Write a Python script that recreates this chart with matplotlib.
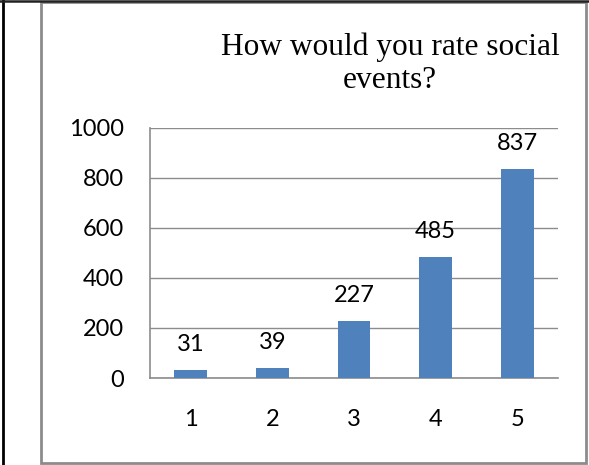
import matplotlib.pyplot as plt
from matplotlib.lines import Line2D
from matplotlib.patches import Rectangle

ratings = ["1", "2", "3", "4", "5"]
counts = [31, 39, 227, 485, 837]
yticks = [0, 200, 400, 600, 800, 1000]
title = "How would you rate social\nevents?"

W, H = 589, 465
fig = plt.figure(figsize=(W / 100, H / 100), dpi=100)

# outer frame: black page lines + grey chart box
fig.add_artist(Line2D([2.5 / W, 2.5 / W], [0, 1], color="black", lw=2))
fig.add_artist(Line2D([0, 1], [1 - 0.8 / H, 1 - 0.8 / H], color="#222222", lw=1.8))
fig.add_artist(Rectangle((41 / W, 2 / H), 545 / W, 461 / H, fill=False,
                         edgecolor="#8c8c8c", lw=2, transform=fig.transFigure))

ax = fig.add_axes([150 / W, (H - 378) / H, 408 / W, 250 / H])
x = range(1, len(counts) + 1)
ax.bar(x, counts, width=0.4, color="#4f81bd", zorder=3)
for xi, c in zip(x, counts):
    ax.annotate(str(c), (xi, c), xytext=(0, 18.5), textcoords="offset points",
                ha="center", va="center", fontsize=17, family="Lato")

ax.set_xlim(0.5, 5.5)
ax.set_ylim(0, 1000)
ax.set_yticks(yticks)
ax.set_xticks(list(x))
ax.set_xticklabels(ratings)
ax.yaxis.grid(True, color="#8c8c8c", lw=1, zorder=0)
ax.tick_params(length=0, labelsize=17)
ax.tick_params(axis="y", pad=18.5)
ax.tick_params(axis="x", pad=22)
for lab in ax.get_xticklabels() + ax.get_yticklabels():
    lab.set_family("Lato")
for s in ["top", "right"]:
    ax.spines[s].set_visible(False)
for s in ["left", "bottom"]:
    ax.spines[s].set_color("#8c8c8c")
    ax.spines[s].set_linewidth(1.2)

fig.text(390 / W, 1 - 32 / H, title, ha="center", va="top", fontsize=22.6,
         family="Liberation Serif", linespacing=1.22)

fig.savefig("out.png", dpi=100)
